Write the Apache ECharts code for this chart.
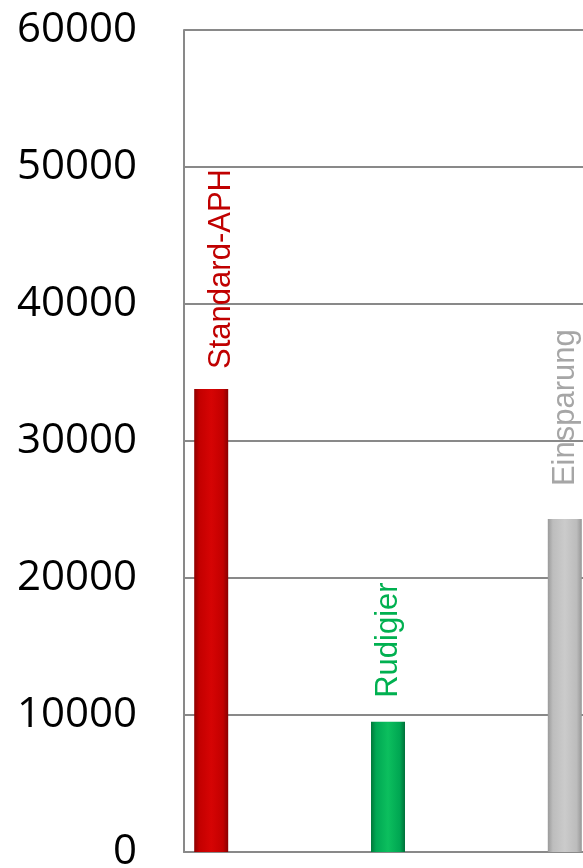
<!DOCTYPE html>
<html>
<head>
<meta charset="utf-8">
<script src="https://cdn.jsdelivr.net/npm/echarts@6/dist/echarts.min.js"></script>
<style>
  html, body { margin: 0; padding: 0; background: #fff; }
  #chart { width: 583px; height: 868px; }
</style>
</head>
<body>
<div id="chart"></div>
<script>
// data
const categories = [""];
const seriesNames = ["Standard-APH", "Rudigier", "Einsparung"];
const seriesValues = [33800, 9500, 24300];
const yTicks = [0, 10000, 20000, 30000, 40000, 50000, 60000];

const chart = echarts.init(document.getElementById("chart"));

const colors = {
  axis: "#898989",
  text: "#000",
  labels: ["#c00000", "#00b050", "#a6a6a6"],
};

// horizontal gradients for the "cylinder" look of the bars
const barFills = [
  ["#8e0000", "#c30000", "#d60404", "#c20000", "#880000"],
  ["#00783a", "#00a853", "#0cbf5e", "#00a652", "#00703a"],
  ["#9a9a9a", "#bdbdbd", "#cbcbcb", "#bcbcbc", "#969696"],
];
const gradient = (c) =>
  new echarts.graphic.LinearGradient(0, 0, 1, 0, [
    { offset: 0, color: c[0] },
    { offset: 0.15, color: c[1] },
    { offset: 0.5, color: c[2] },
    { offset: 0.85, color: c[3] },
    { offset: 1, color: c[4] },
  ]);

// per-label tweaks (Excel placed them by hand)
// offset is in the rotated text frame: [along text, across text]
const labelDistance = [20, 24, 33];
const labelOffset = [[0, 10], [0, 0], [0, 1]];

const options = {
  animation: false,
  grid: {
    left: 184,
    right: -9,
    top: 30,
    bottom: 16,
    containLabel: false,
    outerBoundsMode: "none",
  },
  xAxis: {
    type: "category",
    data: categories,
    axisTick: { show: false },
    axisLabel: { show: false },
    axisLine: { lineStyle: { color: colors.axis, width: 2 } },
  },
  yAxis: {
    type: "value",
    min: 0,
    max: 60000,
    interval: 10000,
    axisLine: { show: true, lineStyle: { color: colors.axis, width: 2 } },
    axisTick: { show: false },
    axisLabel: {
      margin: 47,
      color: colors.text,
      fontFamily: "Open Sans",
      fontSize: 42,
      formatter: (v) => (yTicks.includes(v) ? String(v) : ""),
    },
    splitLine: { lineStyle: { color: colors.axis, width: 2 } },
  },
  series: seriesNames.map((name, i) => ({
    name: name,
    type: "bar",
    data: [seriesValues[i]],
    barWidth: 34,
    barGap: "420%",
    itemStyle: { color: gradient(barFills[i]) },
    label: {
      show: true,
      position: "top",
      rotate: 90,
      align: "left",
      verticalAlign: "middle",
      distance: labelDistance[i],
      offset: labelOffset[i],
      formatter: "{a}",
      color: colors.labels[i],
      fontFamily: "Liberation Sans",
      fontSize: 31,
    },
  })),
};

chart.setOption(options);
</script>
</body>
</html>
